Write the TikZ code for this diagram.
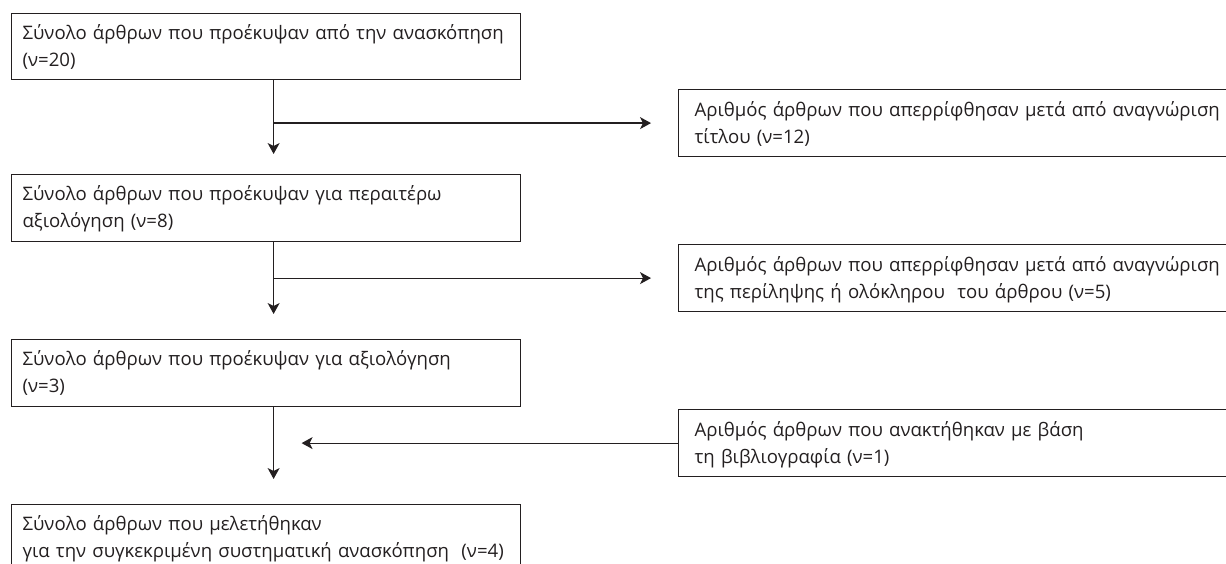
\documentclass[tikz,border=0pt]{standalone}
\usepackage{fontspec}
\setmainfont{Open Sans}
\usetikzlibrary{arrows.meta}
\definecolor{ink}{HTML}{231F20}

\begin{document}
\begin{tikzpicture}[x=1pt,y=-1pt,
  lbox/.style={draw=ink,line width=1.2pt,anchor=north west,inner xsep=11pt,inner ysep=0pt,
    text width=487pt,minimum height=66.5pt,align=left,text height=16pt,text depth=30pt,
    text=ink,font=\fontsize{18.6}{27}\selectfont},
  rbox/.style={lbox,inner xsep=16pt,text width=560pt,minimum height=67pt},
  arr/.style={draw=ink,line width=1.2pt,-{Stealth[length=11pt,width=12pt,inset=3pt]}}]
\useasboundingbox (0,0) rectangle (1226,564); % khung
% cột trái
\node[lbox] (l1) at (11,12.7) {Σύνολο άρθρων που προέκυψαν από την ανασκόπηση\\(ν=20)};
\node[lbox] (l2) at (11,174) {Σύνολο άρθρων που προέκυψαν για περαιτέρω\\αξιολόγηση (ν=8)};
\node[lbox] (l3) at (11,339) {Σύνολο άρθρων που προέκυψαν για αξιολόγηση\\(ν=3)};
\node[lbox] (l4) at (11,504) {Σύνολο άρθρων που μελετήθηκαν\\για την συγκεκριμένη συστηματική ανασκόπηση~ (ν=4)};
% cột phải
\node[rbox] (r1) at (678,89) {Αριθμός άρθρων που απερρίφθησαν μετά από αναγνώριση\\τίτλου (ν=12)};
\node[rbox] (r2) at (678,244) {Αριθμός άρθρων που απερρίφθησαν μετά από αναγνώριση\\της περίληψης ή ολόκληρου~ του άρθρου (ν=5)};
\node[rbox] (r3) at (678,409) {Αριθμός άρθρων που ανακτήθηκαν με βάση\\τη βιβλιογραφία (ν=1)};
% trục dọc
\coordinate (s1) at ([xshift=7.5pt]l1.south);
\coordinate (s2) at ([xshift=7.5pt]l2.south);
\coordinate (s3) at ([xshift=7.5pt]l3.south);
\coordinate (j1) at (s1 |- r1.west);
\coordinate (j2) at (s2 |- r2.west);
\coordinate (j3) at (s3 |- r3.west);
\draw[arr] (s1) -- ([yshift=20pt]s1 |- l2.north);
\draw[arr] (s2) -- ([yshift=25pt]s2 |- l3.north);
\draw[arr] (s3) -- ([yshift=25pt]s3 |- l4.north);
% nhánh ngang
\draw[arr] (j1) -- ([xshift=-27pt]r1.west);
\draw[arr] (j2) -- ([xshift=-27pt]r2.west);
\draw[arr] (r3.west) -- ([xshift=28pt]j3);
\end{tikzpicture}
\end{document}
